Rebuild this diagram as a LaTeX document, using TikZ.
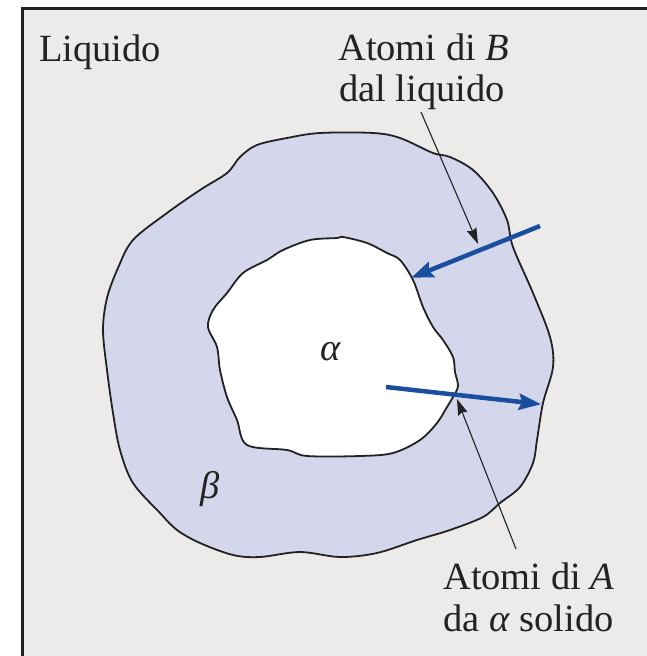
\documentclass[tikz,border=0pt]{standalone}
\usepackage{fontspec}
\setmainfont{Liberation Serif}
\usetikzlibrary{arrows.meta}
\definecolor{liquid}{HTML}{ECEBE9}
\definecolor{betafill}{HTML}{D4D6EC}
\definecolor{flux}{HTML}{1A4E9E}
\definecolor{ink}{HTML}{222222}
\tikzset{
  label/.style={font=\fontsize{38.5}{42}\selectfont, text=ink, inner sep=0pt},
  phase/.style={draw=ink, line width=1.8pt, line join=round},
  fluxarrow/.style={draw=flux, line width=4.5pt, -{Stealth[length=22pt,width=16pt,inset=3pt]}, shorten >=-2pt},
  pointer/.style={draw=ink, line width=1.1pt, -{Stealth[length=16pt,width=10pt,inset=2pt]}}
}
\begin{document}
\begin{tikzpicture}[x=1pt,y=-1pt]
\useasboundingbox (0,0) rectangle (646,656);
\fill[white] (0,0) rectangle (646,656);
% liquid region with its frame
\draw[fill=liquid, draw=ink, line width=3pt] (22.5,8.5) rectangle (680,700);
% beta layer
\draw[phase, fill=betafill] plot[smooth cycle, tension=0.55] coordinates {
 (287,138) (320,133) (373,133) (400,138) (433,153) (450,157) (473,170)
 (493,193) (507,220) (513,247) (533,293) (550,337) (553,367) (543,403)
 (537,440) (533,463) (520,487) (500,503) (483,517) (450,530) (417,540)
 (377,553) (340,557) (300,552) (260,557) (233,555) (200,543) (177,530)
 (160,513) (133,483) (120,450) (113,413) (107,370) (103,330) (107,298)
 (118,268) (133,240) (167,213) (200,190) (227,173) (240,157) (257,145)};
% alpha core
\draw[phase, fill=white] plot[smooth cycle, tension=0.55] coordinates {
 (337,238) (343,237) (367,243) (387,253) (400,260) (413,280) (423,307)
 (433,327) (443,340) (453,357) (455,372) (458,386) (453,397) (447,407)
 (437,423) (420,440) (393,453) (360,456) (307,456) (287,450) (247,445)
 (237,420) (227,397) (220,370) (217,347) (208,327) (213,310) (227,293)
 (243,273) (267,260) (283,250) (310,240)};
% labels
\node[label, anchor=base west] (liq) at (39,61) {Liquido};
\node[label, anchor=base west] (bA) at (338,60) {Atomi di \textit{B}};
\node[label, anchor=base west] (bB) at (339,101) {dal liquido};
\node[label, anchor=base west] (aA) at (443,589) {Atomi di \textit{A}};
\node[label, anchor=base west] (aB) at (443,631) {da \textit{α} solido};
\node[label] (alpha) at (331,352) {\textit{α}};
\node[label] (beta) at (210,489) {\textit{β}};
% diffusion fluxes
\coordinate (b1) at (540,226);
\coordinate (b2) at (413,277);
\coordinate (a1) at (386,387);
\coordinate (a2) at (539,404);
\draw[fluxarrow] (b1) -- (b2);
\draw[fluxarrow] (a1) -- (a2);
% leader lines
\coordinate (p1) at (421,112);
\coordinate (p1e) at (478,244);
\coordinate (p2) at (516,549);
\coordinate (p2e) at (457,399);
\draw[pointer] (p1) -- (p1e);
\draw[pointer] (p2) -- (p2e);
\end{tikzpicture}
\end{document}
